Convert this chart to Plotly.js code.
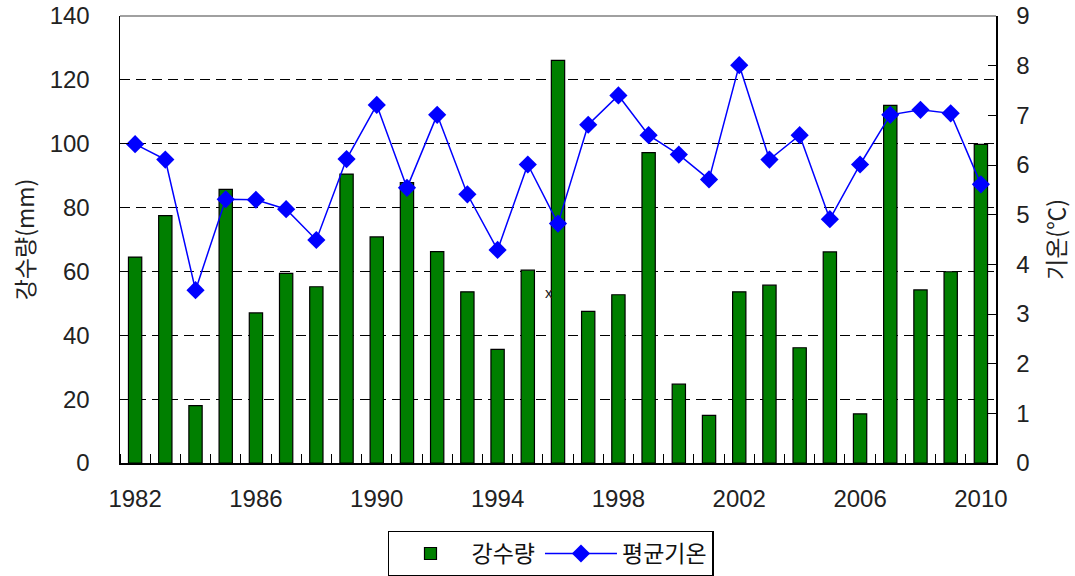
<!DOCTYPE html>
<html>
<head>
<meta charset="utf-8">
<script src="https://cdn.plot.ly/plotly-3.0.1.min.js"></script>
<style>html,body{margin:0;padding:0;background:#fff;}#chart{width:1075px;height:576px;}</style>
</head>
<body>
<div id="chart"></div>
<script>
const years = [1982,1983,1984,1985,1986,1987,1988,1989,1990,1991,1992,1993,1994,1995,1996,1997,1998,1999,2000,2001,2002,2003,2004,2005,2006,2007,2008,2009,2010];
const precipitation = [64.5,77.5,18.0,85.7,47.0,59.4,55.2,90.5,70.8,87.8,66.2,53.6,35.6,60.4,126.1,47.5,52.7,97.2,24.7,14.9,53.6,55.7,36.1,66.1,15.4,112.0,54.2,59.9,99.8];
const meanTemp = [6.42,6.11,3.48,5.31,5.30,5.11,4.49,6.12,7.21,5.54,7.01,5.41,4.29,6.01,4.82,6.81,7.40,6.60,6.21,5.71,8.01,6.11,6.60,4.91,6.01,7.01,7.11,7.04,5.61];
const xTickVals = [1982,1986,1990,1994,1998,2002,2006,2010];
const xTickText = ['1982','1986','1990','1994','1998','2002','2006','2010'];
const seriesNames = ['강수량','평균기온'];
const leftTitle = '강수량(mm)';
const rightTitle = '기온(℃)';

const FONT = 'Liberation Sans, Arial, "Noto Sans CJK KR", sans-serif';
const KFONT = '"Noto Sans CJK KR", "Liberation Sans", sans-serif';

const traces = [
  {
    type: 'bar', x: years, y: precipitation, name: seriesNames[0],
    width: 0.44,
    marker: {color: '#007f00', line: {color: '#000', width: 1.2}},
    yaxis: 'y'
  },
  {
    type: 'scatter', mode: 'lines+markers', x: years, y: meanTemp, name: seriesNames[1],
    line: {color: '#0000ff', width: 1.5},
    marker: {symbol: 'diamond', size: 14, color: '#0000ff'},
    yaxis: 'y2'
  }
];

const layout = {
  width: 1075, height: 576,
  margin: {l: 120, r: 79, t: 16, b: 113, autoexpand: false},
  paper_bgcolor: '#fff', plot_bgcolor: '#fff',
  font: {family: FONT, size: 24, color: '#222'},
  showlegend: true,
  legend: {
    orientation: 'h', xref: 'paper', x: 0.492, xanchor: 'center',
    yref: 'container', y: 0.039, yanchor: 'middle',
    bordercolor: '#000', borderwidth: 1.5, bgcolor: '#fff',
    font: {family: KFONT, size: 23, color: '#111'},
    itemwidth: 72, traceorder: 'normal'
  },
  xaxis: {
    range: [1981.5, 2010.5],
    tickmode: 'array', tickvals: xTickVals, ticktext: xTickText,
    ticks: '', showgrid: false, zeroline: false,
    showline: true, linecolor: '#000', linewidth: 1.5,
    tickfont: {family: FONT, size: 24, color: '#222'},
    ticklabelstandoff: 14,
    minor: {tickmode: 'linear', tick0: 1981.5, dtick: 1, ticks: 'inside', ticklen: 9, tickcolor: '#000', tickwidth: 1, showgrid: false}
  },
  yaxis: {
    range: [0, 140], tickmode: 'linear', tick0: 0, dtick: 20,
    ticks: 'inside', ticklen: 9, tickcolor: '#000', tickwidth: 1,
    showgrid: true, gridcolor: '#000', gridwidth: 1, griddash: '10px,6px',
    zeroline: false, showline: true, linecolor: '#000', linewidth: 1.5,
    tickfont: {family: FONT, size: 24, color: '#222'},
    ticklabelstandoff: 24,
    title: {text: leftTitle, font: {family: KFONT, size: 23, color: '#222'}, standoff: 8}
  },
  yaxis2: {
    range: [0, 9], tickmode: 'linear', tick0: 0, dtick: 1,
    overlaying: 'y', side: 'right',
    ticks: 'inside', ticklen: 8, tickcolor: '#000', tickwidth: 1,
    showgrid: false, zeroline: false, showline: true, linecolor: '#000', linewidth: 1.5,
    tickfont: {family: FONT, size: 24, color: '#222'},
    ticklabelstandoff: 14,
    title: {text: rightTitle, font: {family: KFONT, size: 23, color: '#222'}, standoff: 20}
  },
  shapes: [
    {type: 'line', xref: 'paper', yref: 'paper', x0: 0, x1: 1, y0: 1, y1: 1, line: {color: '#808080', width: 1.5}}
  ],
  annotations: [
    {x: 1995.7, y: 53.5, xref: 'x', yref: 'y', text: 'x', showarrow: false, font: {family: FONT, size: 15, color: '#222'}}
  ]
};

Plotly.newPlot('chart', traces, layout, {displayModeBar: false, staticPlot: true});
</script>
</body>
</html>
